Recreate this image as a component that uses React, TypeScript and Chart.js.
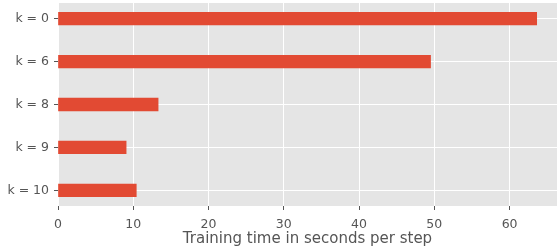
import React, { useEffect, useRef } from "react";
import { Chart, registerables } from "chart.js";

Chart.register(...registerables);

const categories = ["k = 0", "k = 6", "k = 8", "k = 9", "k = 10"];
const times = [63.6, 49.5, 13.3, 9.05, 10.4];
const xTicks = [0, 10, 20, 30, 40, 50, 60];
const axisTitle = "Training time in seconds per step";

const bgPlugin = {
  id: "plotBg",
  beforeDraw(chart: any) {
    const { ctx, chartArea } = chart;
    ctx.save();
    ctx.fillStyle = "#E5E5E5";
    ctx.fillRect(chartArea.left, chartArea.top, chartArea.right - chartArea.left, chartArea.bottom - chartArea.top);
    ctx.restore();
  },
};

export default function App() {
  const ref = useRef<HTMLCanvasElement>(null);
  useEffect(() => {
    if (!ref.current) return;
    const font = "DejaVu Sans";
    const chart = new Chart(ref.current, {
      type: "bar",
      data: {
        datasets: [
          {
            data: times.map((t, i) => ({ x: t, y: i })),
            backgroundColor: "#E24A33",
            barThickness: 12.7,
          } as any,
        ],
      },
      plugins: [bgPlugin],
      options: {
        indexAxis: "y",
        animation: false,
        responsive: false,
        layout: { padding: { top: 3, right: 0, left: 0, bottom: 0 } },
        plugins: { legend: { display: false }, tooltip: { enabled: false } },
        scales: {
          x: {
            type: "linear",
            min: 0,
            max: 66.3,
            offset: false,
            afterBuildTicks: (s: any) => {
              s.ticks = xTicks.map((v) => ({ value: v }));
            },
            afterFit: (s: any) => {
              s.height = 44;
              s.paddingLeft = 0;
              s.paddingRight = 0;
            },
            border: { display: false },
            grid: { offset: false, color: "#FFFFFF", lineWidth: 1, tickColor: "#555555", tickLength: 4 },
            ticks: { color: "#555555", font: { family: font, size: 12.5 }, padding: 7 },
            title: {
              display: true,
              text: axisTitle,
              color: "#555555",
              font: { family: font, size: 15 },
              padding: { top: 0, bottom: 2 },
            },
          },
          y: {
            type: "linear",
            reverse: true,
            min: -0.365,
            max: 4.365,
            offset: false,
            afterBuildTicks: (s: any) => {
              s.ticks = categories.map((_, i) => ({ value: i }));
            },
            afterFit: (s: any) => {
              s.width = 58;
              s.paddingTop = 0;
              s.paddingBottom = 0;
            },
            border: { display: false },
            grid: { offset: false, color: "#FFFFFF", lineWidth: 1, tickColor: "#555555", tickLength: 4 },
            ticks: {
              color: "#555555",
              font: { family: font, size: 12.5 },
              padding: 5,
              callback: (v: any) => categories[Math.round(Number(v))] ?? "",
            },
          },
        },
      },
    } as any);
    return () => chart.destroy();
  }, []);
  return (
    <div style={{ position: "absolute", left: 0, top: 0, width: 557, height: 250, background: "#fff" }}>
      <canvas ref={ref} width={557} height={250} style={{ display: "block" }} />
    </div>
  );
}
